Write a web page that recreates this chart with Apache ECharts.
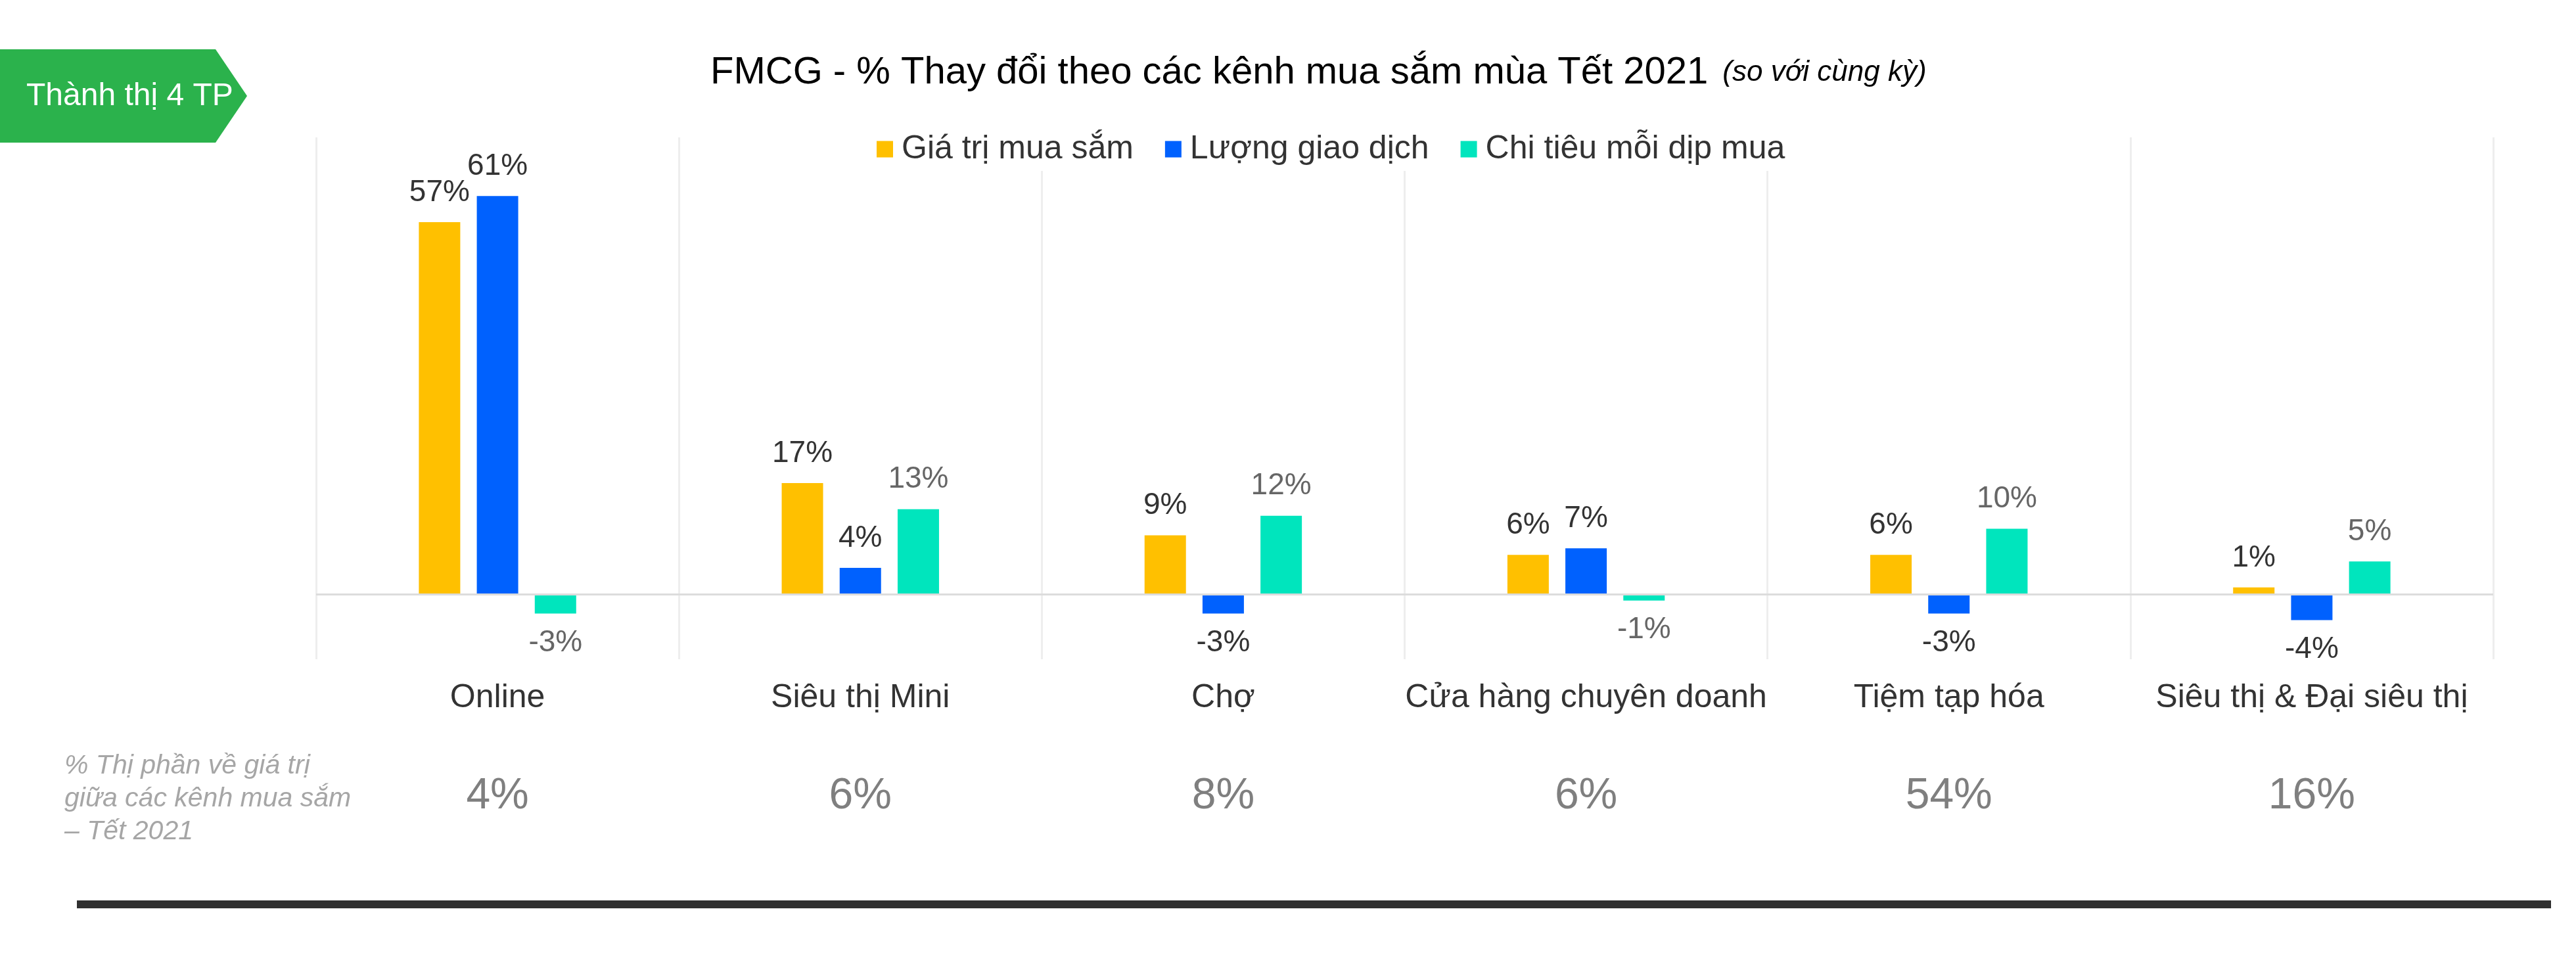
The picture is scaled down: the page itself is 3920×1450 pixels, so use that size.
<!DOCTYPE html>
<html>
<head>
<meta charset="utf-8">
<script src="https://cdn.jsdelivr.net/npm/echarts@6/dist/echarts.min.js"></script>
<style>
  html, body { margin: 0; padding: 0; background: #fff; }
  #chart { width: 3920px; height: 1450px; }
</style>
</head>
<body>
<div id="chart"></div>
<script>
// --- data ---
const channels = ['Online', 'Siêu thị Mini', 'Chợ', 'Cửa hàng chuyên doanh', 'Tiệm tạp hóa', 'Siêu thị & Đại siêu thị']
const shareLabels = ['4%', '6%', '8%', '6%', '54%', '16%']
const seriesNames = ['Giá trị mua sắm', 'Lượng giao dịch', 'Chi tiêu mỗi dịp mua']
const giaTriMuaSam = [57, 17, 9, 6, 6, 1]
const luongGiaoDich = [61, 4, -3, 7, -3, -4]
const chiTieuMoiDip = [-3, 13, 12, -1, 10, 5]

const FONT = "'Liberation Sans', Arial, sans-serif"

// bar series: label above positive bars, below negative ones
const makeSeries = (name, values, color, labelColor) => ({
  name,
  type: 'bar',
  barWidth: 63,
  barGap: '40%',
  itemStyle: { color },
  data: values.map((v) => ({ value: v, label: { position: v < 0 ? 'bottom' : 'top' } })),
  label: {
    show: true,
    distance: 22,
    fontFamily: FONT,
    fontSize: 46,
    color: labelColor,
    formatter: (p) => p.value + '%',
  },
})

const series = [
  makeSeries(seriesNames[0], giaTriMuaSam, '#FFC000', '#333333'),
  makeSeries(seriesNames[1], luongGiaoDich, '#0061FE', '#333333'),
  makeSeries(seriesNames[2], chiTieuMoiDip, '#00E5BD', '#666666'),
]

// zero line
series[0].markLine = {
  silent: true,
  symbol: 'none',
  label: { show: false },
  lineStyle: { color: '#dcdcdc', width: 3, type: 'solid' },
  data: [{ yAxis: 0 }],
}

const chart = echarts.init(document.getElementById('chart'))

chart.setOption({
  animation: false,
  backgroundColor: '#ffffff',
  title: {
    left: 1081,
    top: 82,
    padding: 0,
    text: '{a|FMCG - % Thay đổi theo các kênh mua sắm mùa Tết 2021}{b|(so với cùng kỳ)}',
    textStyle: {
      fontWeight: 'normal',
      rich: {
        a: { fontFamily: FONT, fontSize: 58, fontWeight: 'normal', color: '#000000' },
        b: { fontFamily: FONT, fontSize: 44, fontStyle: 'italic', fontWeight: 'normal', color: '#000000', padding: [0, 0, 0, 22] },
      },
    },
  },
  legend: {
    data: seriesNames,
    left: 1326,
    top: 194,
    padding: 8,
    backgroundColor: '#ffffff',
    icon: 'rect',
    itemWidth: 25,
    itemHeight: 25,
    itemGap: 48,
    textStyle: { fontFamily: FONT, fontSize: 50, color: '#333333', padding: [0, 0, 0, 8] },
  },
  grid: { left: 481, right: 126, top: 209, bottom: 447 },
  xAxis: [
    {
      type: 'category',
      position: 'bottom',
      data: channels,
      axisLine: { show: false, onZero: false },
      axisTick: { show: false },
      splitLine: { show: true, lineStyle: { color: '#eeeeee', width: 3 } },
      axisLabel: { interval: 0, margin: 34, fontFamily: FONT, fontSize: 50, color: '#333333' },
    },
    {
      type: 'category',
      position: 'bottom',
      data: shareLabels,
      axisLine: { show: false, onZero: false },
      axisTick: { show: false },
      splitLine: { show: false },
      axisLabel: { interval: 0, margin: 176, fontFamily: FONT, fontSize: 66, color: '#7f7f7f' },
    },
  ],
  yAxis: {
    type: 'value',
    min: -10,
    max: 70,
    interval: 10,
    show: false,
  },
  series,
  graphic: [
    {
      type: 'polygon',
      shape: { points: [[0, 75], [328, 75], [376, 146], [328, 217], [0, 217]] },
      style: { fill: '#2bb24c' },
    },
    {
      type: 'text',
      x: 40,
      y: 147,
      style: { text: 'Thành thị 4 TP', fontFamily: FONT, fontSize: 48, fill: '#ffffff', verticalAlign: 'middle' },
    },
    {
      type: 'text',
      x: 98,
      y: 1141,
      style: {
        text: '% Thị phần về giá trị\ngiữa các kênh mua sắm\n– Tết 2021',
        fontFamily: FONT,
        fontSize: 41,
        fontStyle: 'italic',
        lineHeight: 50,
        fill: '#a6a6a6',
        verticalAlign: 'top',
      },
    },
    {
      type: 'rect',
      shape: { x: 117, y: 1370, width: 3765, height: 12 },
      style: { fill: '#303030' },
    },
  ],
})
</script>
</body>
</html>
